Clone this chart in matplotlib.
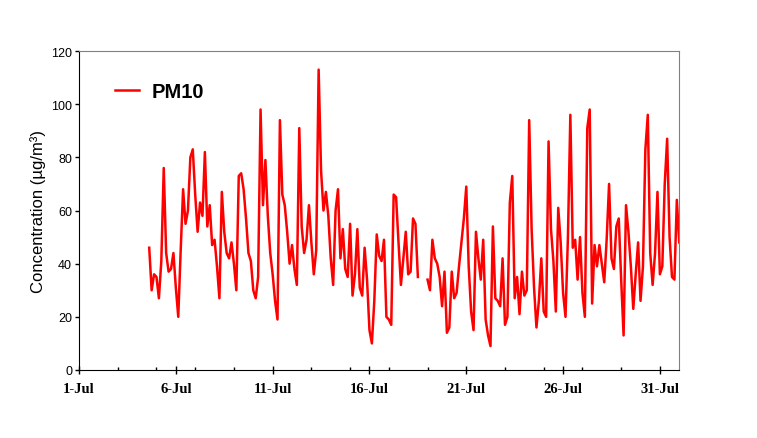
import numpy as np
import pandas as pd
import matplotlib.pyplot as plt
import matplotlib.dates as mdates

# PM10 concentration (ug/m3), every 3 hours
# starting Jul 4 15:00; NaN = missing data on Jul 18
start = "2005-07-04 15:00"
step = "3h"
pm10 = np.array([
    46, 30, 36, 35, 27, 41, 76, 44, 37, 38,
    44, 31, 20, 45, 68, 55, 60, 80, 83, 66,
    52, 63, 58, 82, 54, 62, 47, 49, 39, 27,
    67, 52, 44, 42, 48, 40, 30, 73, 74, 68,
    57, 44, 41, 30, 27, 35, 98, 62, 79, 58,
    44, 36, 26, 19, 94, 66, 62, 52, 40, 47,
    38, 32, 91, 54, 44, 49, 62, 48, 36, 45,
    113, 75, 60, 67, 58, 42, 32, 60, 68, 42,
    53, 38, 35, 55, 28, 36, 53, 31, 28, 46,
    34, 15, 10, 26, 51, 43, 41, 49, 20, 19,
    17, 66, 65, 48, 32, 42, 52, 36, 37, 57,
    55, 35, np.nan, np.nan, np.nan, 34, 30, 49, 42, 40,
    35, 24, 37, 14, 16, 37, 27, 29, 39, 48,
    57, 69, 39, 22, 15, 52, 42, 34, 49, 19,
    13, 9, 54, 27, 26, 24, 42, 17, 20, 63,
    73, 27, 35, 21, 37, 28, 30, 94, 53, 31,
    16, 26, 42, 22, 20, 86, 53, 41, 22, 61,
    48, 29, 20, 50, 96, 46, 49, 34, 50, 29,
    20, 91, 98, 25, 47, 39, 47, 40, 33, 49,
    70, 42, 38, 54, 57, 34, 13, 62, 52, 39,
    23, 36, 48, 26, 39, 83, 96, 44, 32, 44,
    67, 36, 39, 70, 87, 50, 35, 34, 64, 48,
])
t = pd.date_range(start, periods=len(pm10), freq=step)

major_days = [1, 6, 11, 16, 21, 26, 31]

fig = plt.figure(figsize=(7.57, 4.39), dpi=100)
ax = fig.add_axes([0.1044, 0.1549, 0.7929, 0.7266])

ax.plot(t, pm10, color='#ff0000', linewidth=1.8, label='PM10')

ax.set_xlim(pd.Timestamp("2005-07-01"), pd.Timestamp("2005-08-01"))
ax.set_ylim(0, 120)
ax.set_yticks(np.arange(0, 121, 20))

ax.set_xticks([pd.Timestamp(2005, 7, d) for d in major_days])
ax.xaxis.set_minor_locator(mdates.DayLocator(interval=2))
ax.xaxis.set_major_formatter(mdates.DateFormatter('%-d-%b'))

ax.tick_params(axis='x', which='major', direction='inout', length=6, width=1, pad=6)
ax.tick_params(axis='x', which='minor', direction='in', length=2.5, width=1)
ax.tick_params(axis='y', direction='out', length=3, width=1, pad=2)

for lab in ax.get_xticklabels():
    lab.set_fontfamily('Liberation Serif')
    lab.set_fontweight('bold')
    lab.set_fontsize(10.5)
for lab in ax.get_yticklabels():
    lab.set_fontfamily('Liberation Sans')
    lab.set_fontsize(9)

ax.spines['top'].set_color('#808080')
ax.spines['right'].set_color('#808080')

ax.set_ylabel('Concentration (µg/m³)', fontsize=12, family='Liberation Sans', labelpad=4)

ax.legend(loc='center left', bbox_to_anchor=(0.06, 0.872), frameon=False,
          prop={'family': 'Liberation Sans', 'weight': 'bold', 'size': 14.5},
          handlelength=1.2, handletextpad=0.6, borderpad=0, borderaxespad=0)

fig.savefig("out.png", dpi=100)
